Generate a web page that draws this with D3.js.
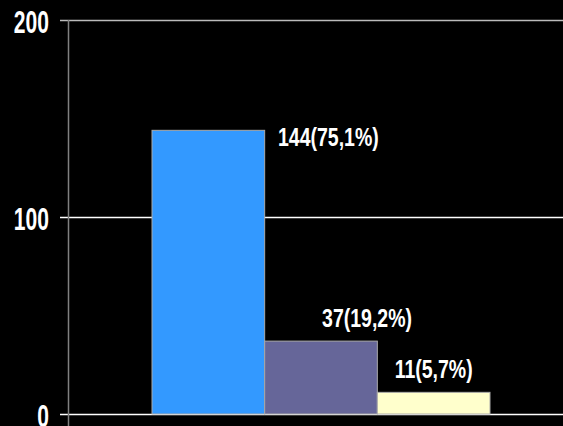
<!DOCTYPE html>
<html>
<head>
<meta charset="utf-8">
<script src="https://cdn.jsdelivr.net/npm/d3@7/dist/d3.min.js"></script>
<style>
  html, body { margin: 0; padding: 0; background: #000; }
  svg { display: block; }
  text { font-family: "Liberation Sans Narrow", "Arial Narrow", "Liberation Sans", sans-serif; font-weight: bold; fill: #fff; }
</style>
</head>
<body>
<div id="chart"></div>
<script>
var categories = ["a", "b", "c"];
var counts = [144, 37, 11];
var labels = ["144(75,1%)", "37(19,2%)", "11(5,7%)"];
var colors = ["#3399ff", "#666699", "#ffffcc"];
var yTicks = [0, 100, 200];

var width = 563, height = 426;
var margin = {top: 20, left: 68, bottom: 12};

var svg = d3.select("#chart").append("svg")
    .attr("width", width)
    .attr("height", height);

var y = d3.scaleLinear()
    .domain([0, 200])
    .range([height - margin.bottom, margin.top]);

var x = d3.scaleBand()
    .domain(categories)
    .range([152, 490])
    .paddingInner(0)
    .paddingOuter(0);

// gridlines (act as ticks too, start left of axis)
svg.selectAll(".grid")
  .data(yTicks)
  .enter().append("line")
    .attr("class", "grid")
    .attr("x1", margin.left - 8)
    .attr("x2", width)
    .attr("y1", function(d) { return Math.round(y(d)) + 0.5; })
    .attr("y2", function(d) { return Math.round(y(d)) + 0.5; })
    .attr("stroke", function(d) { return d == 200 ? "#bbbbbb" : "#ffffff"; })
    .attr("stroke-width", 1.5);

svg.append("line")
    .attr("x1", margin.left + 0.5)
    .attr("x2", margin.left + 0.5)
    .attr("y1", y(200))
    .attr("y2", height)
    .attr("stroke", "#808080")
    .attr("stroke-width", 1.5);

// no narrow font installed, so squeeze the text horizontally
svg.selectAll(".tick-label")
  .data(yTicks)
  .enter().append("text")
    .attr("class", "tick-label")
    .attr("transform", function(d) { return "translate(49," + (y(d) + 13) + ") scale(0.68,1)"; })
    .attr("text-anchor", "end")
    .style("font-size", "31px")
    .text(function(d) { return d; });

svg.selectAll(".bar")
  .data(counts)
  .enter().append("rect")
    .attr("class", "bar")
    .attr("x", function(d, i) { return x(categories[i]); })
    .attr("y", function(d) { return y(d); })
    .attr("width", x.bandwidth())
    .attr("height", function(d) { return y(0) - y(d); })
    .attr("fill", function(d, i) { return colors[i]; })
    .attr("stroke", "#aaaaaa")
    .attr("stroke-width", 1);

// value labels, shifted as in the original
var shift = [120, 46, 0];
svg.selectAll(".val")
  .data(counts)
  .enter().append("text")
    .attr("class", "val")
    .attr("transform", function(d, i) {
      var tx = x(categories[i]) + x.bandwidth() / 2 + shift[i];
      var ty = y(d) + (i == 0 ? 16 : -14);
      return "translate(" + tx + "," + ty + ") scale(0.75,1)";
    })
    .attr("text-anchor", "middle")
    .style("font-size", "26px")
    .text(function(d, i) { return labels[i]; });
</script>
</body>
</html>
